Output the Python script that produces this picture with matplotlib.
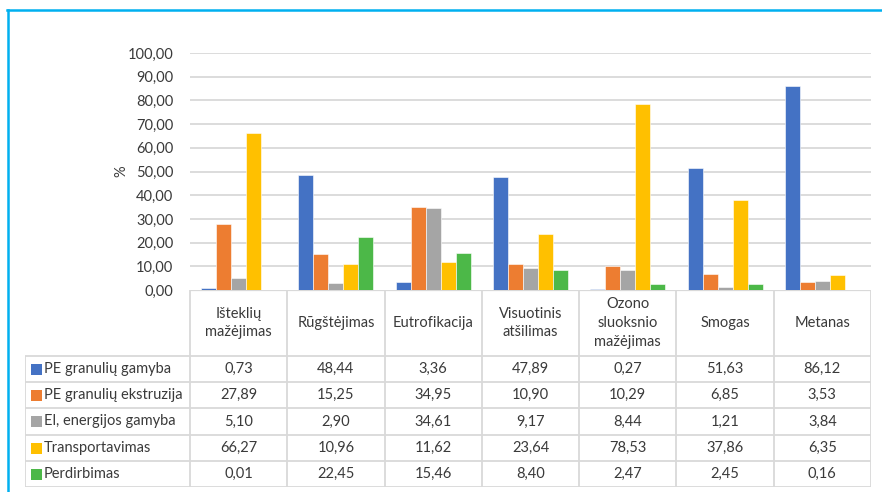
import matplotlib
matplotlib.use("Agg")
import matplotlib.pyplot as plt
from matplotlib.lines import Line2D
from matplotlib.patches import Rectangle
import numpy as np

plt.rcParams['font.family'] = ['Lato', 'DejaVu Sans']

categories = ["Išteklių\nmažėjimas", "Rūgštėjimas", "Eutrofikacija",
              "Visuotinis\natšilimas", "Ozono\nsluoksnio\nmažėjimas",
              "Smogas", "Metanas"]

series_names = ["PE granulių gamyba", "PE granulių ekstruzija",
                "El, energijos gamyba", "Transportavimas", "Perdirbimas"]

pe_gamyba = [0.73, 48.44, 3.36, 47.89, 0.27, 51.63, 86.12]
pe_ekstruzija = [27.89, 15.25, 34.95, 10.90, 10.29, 6.85, 3.53]
el_energija = [5.10, 2.90, 34.61, 9.17, 8.44, 1.21, 3.84]
transportavimas = [66.27, 10.96, 11.62, 23.64, 78.53, 37.86, 6.35]
perdirbimas = [0.01, 22.45, 15.46, 8.40, 2.47, 2.45, 0.16]

series = [pe_gamyba, pe_ekstruzija, el_energija, transportavimas, perdirbimas]
colors = ["#4472C4", "#ED7D31", "#A5A5A5", "#FFC000", "#4CB848"]

yticks = [0, 10, 20, 30, 40, 50, 60, 70, 80, 90, 100]

TEXT = "#3A3A3A"
GRID = "#D9D9D9"
W, H = 882, 492


def fx(px):
    return px / W


def fy(py):
    return 1 - py / H


fig = plt.figure(figsize=(W / 100, H / 100), dpi=100)

# plot area
left_px, right_px, top_px, base_px = 190, 871, 53, 290
ax = fig.add_axes([fx(left_px), fy(base_px), fx(right_px - left_px),
                   (base_px - top_px) / H])
n = len(categories)
x = np.arange(n) + 0.5
bw = 0.154
for i, (vals, c) in enumerate(zip(series, colors)):
    ax.bar(x + (i - 2) * bw, vals, width=bw, color=c, edgecolor="white",
           linewidth=0.4, zorder=3, label=series_names[i])
ax.set_xlim(0, n)
ax.set_ylim(0, 100)
ax.set_yticks(yticks)
ax.set_yticklabels([f"{v:.2f}".replace(".", ",") for v in yticks],
                   fontsize=10.5, color=TEXT)
ax.tick_params(axis="y", length=0, pad=12)
ax.set_xticks([])
for s in ax.spines.values():
    s.set_visible(False)
for v in yticks[1:]:
    ax.axhline(v, color=GRID, lw=1.3, zorder=1)
ax.patch.set_alpha(0)

# axis title
fig.text(fx(121), fy((top_px + base_px) / 2), "%", rotation=90, ha="center",
         va="center", fontsize=10.5, color=TEXT)

# data table under the plot
tab_left, tab_bottom = 25, 487
unit = n / (right_px - left_px)       # data units per pixel
xl = -(left_px - tab_left) * unit
ta = fig.add_axes([fx(tab_left), fy(tab_bottom), fx(right_px - tab_left),
                   (tab_bottom - base_px) / H])
ta.set_xlim(xl, n)
ta.set_ylim(tab_bottom, base_px)
ta.axis("off")

row_lines = [356, 382, 408, 435, 461, 487]
for yy in row_lines:
    ta.plot([xl, n], [yy, yy], color=GRID, lw=1.3, solid_capstyle="butt")
ta.plot([0, n], [base_px, base_px], color=GRID, lw=1.6, solid_capstyle="butt")
for k in range(n + 1):
    ta.plot([k, k], [base_px, tab_bottom], color=GRID, lw=1.3,
            solid_capstyle="butt")
ta.plot([xl, xl], [row_lines[0], tab_bottom], color=GRID, lw=1.3,
        solid_capstyle="butt")

head_mid = (base_px + row_lines[0]) / 2
for k, cat in enumerate(categories):
    ta.text(k + 0.5, head_mid, cat, ha="center", va="center", fontsize=10.5,
            color=TEXT, linespacing=1.45)

for r, (name, vals, c) in enumerate(zip(series_names, series, colors)):
    ymid = (row_lines[r] + row_lines[r + 1]) / 2
    ta.add_patch(Rectangle((xl + 6 * unit, ymid - 5.5), 11 * unit, 11,
                           color=c, lw=0))
    ta.text(xl + 18.5 * unit, ymid, name, ha="left", va="center",
            fontsize=10.5, color=TEXT)
    for k, v in enumerate(vals):
        ta.text(k + 0.5, ymid, f"{v:.2f}".replace(".", ","), ha="center",
                va="center", fontsize=10.5, color=TEXT)

# blue frame edges
FRAME = "#00B0F0"
fig.add_artist(Line2D([fx(7), 1], [fy(10), fy(10)], color=FRAME, lw=1.8,
                      transform=fig.transFigure))
fig.add_artist(Line2D([fx(8), fx(8)], [fy(10), 0], color=FRAME, lw=1.8,
                      transform=fig.transFigure))

fig.savefig("out.png", dpi=100, facecolor="white")
